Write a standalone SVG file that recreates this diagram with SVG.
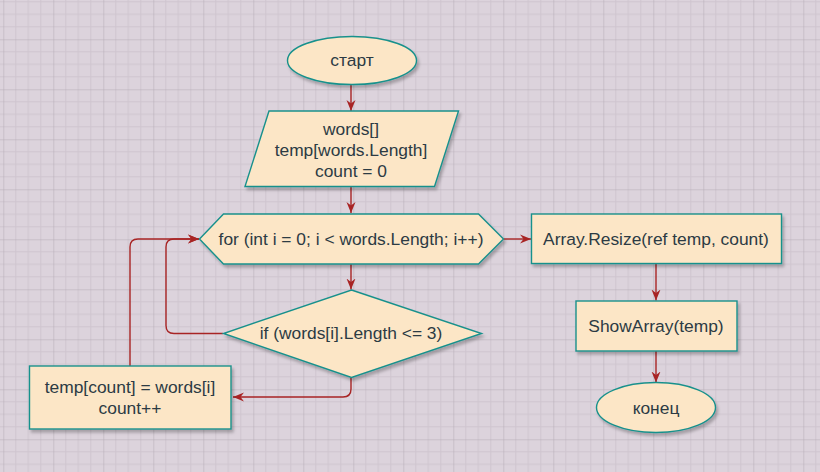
<svg xmlns="http://www.w3.org/2000/svg" width="820" height="472" viewBox="0 0 820 472">
<defs>
<pattern id="grid" patternUnits="userSpaceOnUse" x="3.3" y="39.3" width="50" height="50">
<rect width="50" height="50" fill="#dcd3dc"/>
<path d="M12.5 0V50M25 0V50M37.5 0V50M0 12.5H50M0 25H50M0 37.5H50" stroke="#cfc5cf" stroke-width="1" fill="none"/>
<path d="M0 0V50M0 0H50" stroke="#b4abb5" stroke-width="1" fill="none"/>
</pattern>
<filter id="sh" x="-10%" y="-10%" width="130%" height="140%">
<feDropShadow dx="2" dy="3" stdDeviation="1.6" flood-color="#000" flood-opacity="0.25"/>
</filter>
<marker id="arr" markerUnits="userSpaceOnUse" markerWidth="12" markerHeight="10" refX="11" refY="5" orient="auto">
<path d="M0,0.5 L11,5 L0,9.5 L3.5,5 z" fill="#a82424"/>
</marker>
</defs>
<style>
.shape{fill:#fce6c6;stroke:#19918c;stroke-width:1.4;filter:url(#sh)}
.t{font-family:"Liberation Sans",Arial,sans-serif;font-size:17.4px;fill:#2c3b44;text-anchor:middle;dominant-baseline:central}
.c{fill:none;stroke:#a82424;stroke-width:1.4;marker-end:url(#arr)}
</style>
<rect width="820" height="472" fill="url(#grid)"/>
<g id="connectors">
<path class="c" d="M351 84.5V111"/>
<path class="c" d="M351 187V213"/>
<path class="c" d="M351 264V289.5"/>
<path class="c" d="M351 377.5V389Q351 397 343 397H233"/>
<path class="c" d="M223 333.5H174Q166 333.5 166 325.5V247Q166 239 174 239H199"/>
<path class="c" d="M130 366V247Q130 239 138 239H199"/>
<path class="c" d="M503.5 239H531"/>
<path class="c" d="M656 263.5V300.5"/>
<path class="c" d="M656 351V382.5"/>
</g>
<g id="start">
<ellipse class="shape" cx="352" cy="60.5" rx="64.5" ry="24"/>
<text class="t" x="352" y="60">старт</text>
</g>
<g id="input">
<polygon class="shape" points="269,111 458.5,111 434.5,186.5 245,186.5"/>
<text class="t" x="351" y="128.5">words[]</text>
<text class="t" x="351" y="149.5">temp[words.Length]</text>
<text class="t" x="351" y="170.5">count = 0</text>
</g>
<g id="loop">
<polygon class="shape" points="199.5,239 223.5,214 478.5,214 503.5,239 478.5,264 223.5,264"/>
<text class="t" x="351" y="239">for (int i = 0; i &lt; words.Length; i++)</text>
</g>
<g id="cond">
<polygon class="shape" points="351.5,290 481.5,333.5 351.5,377.5 223.5,333.5"/>
<text class="t" x="351" y="333">if (words[i].Length &lt;= 3)</text>
</g>
<g id="assign">
<rect class="shape" x="29.5" y="366" width="201.5" height="63"/>
<text class="t" x="130" y="387">temp[count] = words[i]</text>
<text class="t" x="130" y="408">count++</text>
</g>
<g id="resize">
<rect class="shape" x="531.5" y="214" width="250" height="49.5"/>
<text class="t" x="656" y="239">Array.Resize(ref temp, count)</text>
</g>
<g id="show">
<rect class="shape" x="576" y="301" width="161" height="50"/>
<text class="t" x="656" y="326">ShowArray(temp)</text>
</g>
<g id="end">
<ellipse class="shape" cx="656" cy="407.5" rx="59.5" ry="25"/>
<text class="t" x="656" y="408">конец</text>
</g>
</svg>
